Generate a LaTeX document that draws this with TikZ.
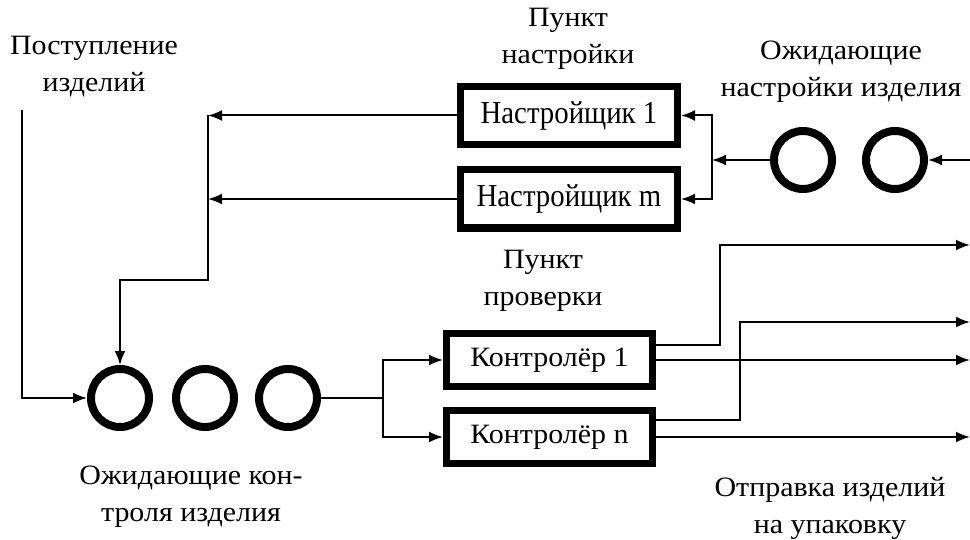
\documentclass[tikz,border=0pt]{standalone}
\usepackage{fontspec}
\setmainfont{Liberation Serif}
\newfontfamily\labelfont[FakeStretch=1.07]{Liberation Serif}
\newfontfamily\unitfont[FakeStretch=0.9]{Liberation Serif}
\usetikzlibrary{arrows.meta}
\begin{document}
\begin{tikzpicture}[x=0.5pt,y=-0.5pt,
  every node/.style={font=\labelfont\fontsize{14}{18.5}\selectfont},
  unit/.style={draw,line width=3.5pt,minimum width=108.5pt,minimum height=29pt,inner sep=0,
    font=\unitfont\fontsize{16}{20}\selectfont},
  ctrl/.style={draw,line width=3.5pt,minimum width=103pt,minimum height=26.5pt,inner sep=0},
  queue/.style={draw,circle,line width=4pt,minimum size=29pt,inner sep=0},
  flow/.style={line width=1pt},
  arr/.style={flow,-{Latex[length=7pt,width=5.5pt]}},
  lbl/.style={align=center,inner sep=0}]
\useasboundingbox (0,0) rectangle (970,540);

% service units
\node[unit] (s1) at (569,115.5) {Настройщик 1};
\node[unit] (sm) at (569,199) {Настройщик m};
\node[ctrl] (k1) at (549.5,360) {Контролёр 1};
\node[ctrl] (kn) at (549.5,437) {Контролёр n};

% queues
\node[queue] (q1) at (120,398) {};
\node[queue] (q2) at (205,398) {};
\node[queue] (q3) at (288,398) {};
\node[queue] (w1) at (803,160) {};
\node[queue] (w2) at (895,160) {};

% labels
\node[lbl] (lin)  at (94,67)  {Поступление\\изделий};
\node[lbl] (lset) at (568,39) {Пункт\\настройки};
\node[lbl] (lw)   at (841,72) {Ожидающие\\настройки изделия};
\node[lbl] (lchk) at (543,281) {Пункт\\проверки};
\node[lbl] (lq)   at (191,497) {Ожидающие кон-\\троля изделия};
\node[lbl] (lout) at (830,508) {Отправка изделий\\на упаковку};

% junction points
\coordinate (src)  at (22,110);
\coordinate (feed) at (970,160);
\coordinate (sbus) at (712,160);
\coordinate (rbus) at (208,280);
\coordinate (kbus) at (383,398);
\coordinate (t1) at (720,245);
\coordinate (t2) at (740,322);
\coordinate (o1) at (970,245);
\coordinate (o2) at (970,322);
\coordinate (o3) at (970,362);
\coordinate (o4) at (970,437);

% incoming products
\draw[arr] (src) |- (q1.west);

% adjustment loop
\draw[arr] (feed) -- (w2.east);
\draw[arr] (w1.west) -- (sbus);
\draw[arr] (sbus) |- (s1.east);
\draw[arr] (sbus) |- (sm.east);
\draw[arr] (s1.west) -- (s1.west -| rbus);
\draw[arr] (sm.west) -- (sm.west -| rbus);
\draw[arr] (s1.west -| rbus) -- (rbus) -| (q1.north);

% inspection
\draw[flow] (q3.east) -- (kbus);
\draw[arr] (kbus) |- (k1.west);
\draw[arr] (kbus) |- (kn.west);

% outputs
\draw[arr] ([yshift=7.5pt]k1.east) -| (t1) -- (o1);
\draw[arr] (k1.east) -- (k1.east -| o3);
\draw[arr] ([yshift=8.5pt]kn.east) -| (t2) -- (o2);
\draw[arr] (kn.east) -- (kn.east -| o4);
\end{tikzpicture}
\end{document}
